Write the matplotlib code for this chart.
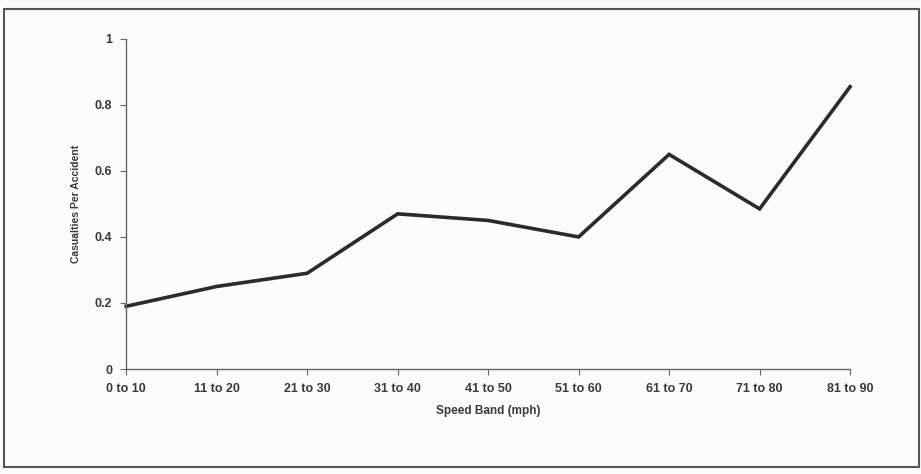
import matplotlib
matplotlib.use("Agg")
import matplotlib.pyplot as plt
from matplotlib.patches import Rectangle

# speed bands and casualties per accident
bands = ["0 to 10", "11 to 20", "21 to 30", "31 to 40", "41 to 50",
         "51 to 60", "61 to 70", "71 to 80", "81 to 90"]
casualties = [0.19, 0.25, 0.29, 0.47, 0.45, 0.40, 0.65, 0.485, 0.855]
yticks = [0, 0.2, 0.4, 0.6, 0.8, 1]
ytick_labels = ["0", "0.2", "0.4", "0.6", "0.8", "1"]

plt.rcParams['font.family'] = ['Liberation Sans', 'DejaVu Sans']

fig = plt.figure(figsize=(9.21, 4.74), dpi=100)
fig.patch.set_facecolor("#fbfbfb")

# outer frame of the chart area
fig.add_artist(Rectangle((0.004, 0.015), 0.994, 0.965, transform=fig.transFigure,
                         fill=False, edgecolor="#555555", linewidth=1.5))

ax = fig.add_axes([0.137, 0.2215, 0.786, 0.6965])
ax.set_facecolor("none")
x = list(range(len(bands)))
ax.plot(x, casualties, color="#2b2b2b", linewidth=2.6, solid_joinstyle="miter",
        clip_on=False)

ax.set_xlim(0, len(bands) - 1)
ax.set_ylim(0, 1)
ax.set_xticks(x)
ax.set_xticklabels(bands, fontsize=9, color="#3a3a3a", fontweight="bold")
ax.set_yticks(yticks)
ax.set_yticklabels(ytick_labels, fontsize=9, color="#3a3a3a", fontweight="bold")

for side in ["top", "right"]:
    ax.spines[side].set_visible(False)
for side in ["left", "bottom"]:
    ax.spines[side].set_color("#666666")
    ax.spines[side].set_linewidth(1.0)
ax.tick_params(axis="both", direction="out", length=4, color="#666666", pad=6)

ax.set_xlabel("Speed Band (mph)", fontsize=8.5, color="#3a3a3a",
              fontweight="bold", labelpad=7)
ax.set_ylabel("Casualties Per Accident", fontsize=7.5, color="#3a3a3a",
              fontweight="bold", labelpad=10)

fig.savefig("out.png", dpi=100, facecolor=fig.get_facecolor())
